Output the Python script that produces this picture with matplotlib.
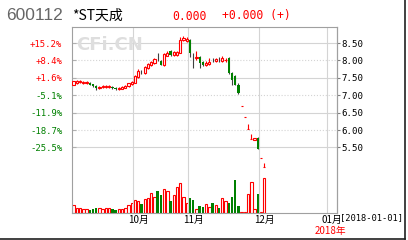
import matplotlib
matplotlib.use('Agg')
import matplotlib.pyplot as plt
from matplotlib.lines import Line2D
import numpy as np

code = '600112'
name = '*ST天成'
last_price = '0.000'
change = '+0.000 (+)'
base = 7.38  # reference close for the % scale

# daily candles, one per trading day from early Sept to 4 Dec 2017
opens = [7.30, 7.36, 7.38, 7.36, 7.35, 7.36, 7.31, 7.26, 7.21, 7.23,
         7.24, 7.25, 7.24, 7.21, 7.18, 7.19, 7.22, 7.26, 7.32, 7.36,
         7.52, 7.68, 7.65, 7.78, 7.86, 7.93, 8.05, 7.98, 7.86, 8.14,
         8.26, 8.16, 8.16, 8.22, 8.58, 8.56, 8.58, 8.14, 8.06, 8.10,
         7.96, 7.87, 7.90, 8.01, 7.98, 8.01, 7.98, 8.00, 8.07, 7.64,
         7.55, 7.30, 6.70, 6.36, 6.04, 5.74, 5.72, 5.78, 5.19, 4.93]
closes = [7.40, 7.40, 7.40, 7.38, 7.37, 7.30, 7.26, 7.20, 7.24, 7.26,
          7.26, 7.27, 7.20, 7.19, 7.21, 7.24, 7.26, 7.34, 7.38, 7.55,
          7.70, 7.66, 7.80, 7.90, 7.95, 8.05, 8.03, 7.88, 8.18, 8.22,
          8.16, 8.24, 8.24, 8.60, 8.64, 8.62, 8.22, 8.12, 8.10, 7.92,
          7.88, 7.92, 7.95, 8.00, 8.04, 8.00, 8.06, 8.02, 7.64, 7.45,
          7.30, 7.05, 6.70, 6.36, 6.04, 5.74, 5.76, 5.46, 5.19, 4.93]
highs = [7.42, 7.44, 7.45, 7.42, 7.41, 7.38, 7.33, 7.28, 7.27, 7.29,
         7.28, 7.30, 7.26, 7.23, 7.23, 7.26, 7.28, 7.36, 7.40, 7.58,
         7.74, 7.73, 7.83, 7.93, 7.98, 8.08, 8.20, 8.00, 8.20, 8.26,
         8.30, 8.26, 8.27, 8.66, 8.70, 8.68, 8.62, 8.22, 8.28, 8.12,
         7.98, 7.98, 8.06, 8.06, 8.08, 8.10, 8.12, 8.08, 8.09, 7.66,
         7.58, 7.34, 6.70, 6.36, 6.18, 5.88, 5.77, 5.80, 5.19, 5.05]
lows = [7.28, 7.33, 7.35, 7.33, 7.31, 7.28, 7.24, 7.16, 7.19, 7.21,
        7.21, 7.22, 7.18, 7.15, 7.16, 7.17, 7.20, 7.24, 7.28, 7.34,
        7.50, 7.60, 7.62, 7.76, 7.83, 7.90, 7.98, 7.86, 7.85, 8.12,
        8.14, 8.12, 8.14, 8.20, 8.56, 8.52, 8.10, 7.78, 8.02, 7.78,
        7.85, 7.85, 7.88, 7.95, 7.96, 7.96, 7.96, 7.96, 7.62, 7.29,
        7.28, 7.04, 6.70, 6.36, 6.04, 5.74, 5.71, 5.44, 5.19, 4.93]
volumes = [8, 5, 5, 4, 4, 3, 4, 5, 5, 4,
           5, 5, 4, 3, 4, 4, 5, 8, 10, 13,
           12, 9, 14, 15, 20, 16, 22, 18, 24, 22,
           12, 18, 26, 30, 16, 10, 15, 13, 4, 7,
           6, 9, 6, 10, 8, 5, 15, 12, 10, 16,
           33, 7, 1, 1, 19, 31, 4, 19, 1, 35]

month_first = [19, 36, 58, 79]   # index of first trading day of each month
month_labels = ['10月', '11月', '12月', '01月']
price_ticks = [5.5, 6.0, 6.5, 7.0, 7.5, 8.0, 8.5]

RED = '#ff0000'
GREEN = '#008000'
CJK = ['Noto Sans CJK SC', 'DejaVu Sans']

o = np.array(opens)
c = np.array(closes)
h = np.array(highs)
l = np.array(lows)
v = np.array(volumes)
x = np.arange(len(o))
up = c >= o

fig = plt.figure(figsize=(4.08, 2.4), dpi=100)
ax = fig.add_axes([72 / 408, 27 / 240, 265 / 408, 186 / 240])
axv = ax.twinx()
ax.set_zorder(axv.get_zorder() + 1)
ax.patch.set_visible(False)

# volume
axv.bar(x[up], v[up], width=0.75, facecolor='white', edgecolor=RED, linewidth=0.8)
axv.bar(x[~up], v[~up], width=0.75, color=GREEN, linewidth=0)
axv.set_ylim(0, 186)
axv.set_yticks([])
for s in axv.spines.values():
    s.set_visible(False)

# grid
for k, p in enumerate(price_ticks):
    ax.axhline(p, color='#d4d4d4', lw=0.8, ls='-' if k % 2 == 0 else ':', zorder=0)
for m in month_first:
    ax.axvline(m - 0.5, color='#d4d4d4', lw=0.8, zorder=0)

# candles
ax.vlines(x[up], l[up], h[up], color=RED, lw=0.8, zorder=2)
ax.vlines(x[~up], l[~up], h[~up], color='#404040', lw=0.8, zorder=2)
ax.bar(x[up], np.maximum(c[up] - o[up], 0.002), bottom=o[up], width=0.7,
       facecolor='white', edgecolor=RED, linewidth=0.8, zorder=3)
ax.bar(x[~up], o[~up] - c[~up], bottom=c[~up], width=0.7, color=GREEN,
       linewidth=0, zorder=3)

ax.set_xlim(-0.5, 81.5)
ax.set_ylim(3.615, 8.96)
ax.set_xticks([])
ax.set_yticks(price_ticks)
ax.set_yticklabels([f'{(p / base - 1) * 100:+.1f}%' for p in price_ticks],
                   family='DejaVu Sans Mono', fontsize=6.5)
for lab, p in zip(ax.get_yticklabels(), price_ticks):
    lab.set_color(RED if p >= base else GREEN)
ax.tick_params(axis='y', length=3, direction='in', color='#b0b0b0', pad=7)

sec = ax.secondary_yaxis('right')
sec.set_yticks(price_ticks)
sec.set_yticklabels([f'{p:.2f}' for p in price_ticks],
                    family='DejaVu Sans Mono', fontsize=6.6)
sec.tick_params(length=2, color='#808080', pad=1)
sec.spines['right'].set_color('#808080')

for s in ax.spines.values():
    s.set_color('#a0a0a0')

ax.text(0.143, 0.905, 'CFi.CN', transform=ax.transAxes, ha='center', va='center',
        fontsize=13, fontweight='bold', color='#dedede', zorder=0)

for m, lab in zip(month_first, month_labels):
    ax.annotate(lab, xy=(m - 0.5, 0), xycoords=('data', 'axes fraction'),
                xytext=(-4, -1.5), textcoords='offset points', ha='left', va='top',
                fontsize=7, family=CJK)

fig.text(340 / 408, 1 - 218 / 240, '[2018-01-01]', fontsize=6.3,
         family='DejaVu Sans Mono', va='center', ha='left')
fig.text(315 / 408, 1 - 231 / 240, '2018年', fontsize=7, family=CJK,
         color=RED, va='center', ha='left')

# header
fig.text(6 / 408, 1 - 16 / 240, code, fontsize=12.5, family='Liberation Sans',
         color='#666666', va='center', ha='left')
fig.text(72 / 408, 1 - 16 / 240, name, fontsize=10, family=CJK,
         color='black', va='center', ha='left')
fig.text(172 / 408, 1 - 16 / 240, last_price, fontsize=8.3,
         family='DejaVu Sans Mono', color=RED, va='center', ha='left')
fig.text(222 / 408, 1 - 16 / 240, change, fontsize=8.3,
         family='DejaVu Sans Mono', color=RED, va='center', ha='left')

# outer frame (right and bottom edges)
fig.add_artist(Line2D([405 / 408, 405 / 408], [1.5 / 240, 1], color='#202020',
                      lw=1.2, transform=fig.transFigure))
fig.add_artist(Line2D([0, 405 / 408], [1.5 / 240, 1.5 / 240], color='#202020',
                      lw=1.2, transform=fig.transFigure))

fig.savefig('out.png', dpi=100)
